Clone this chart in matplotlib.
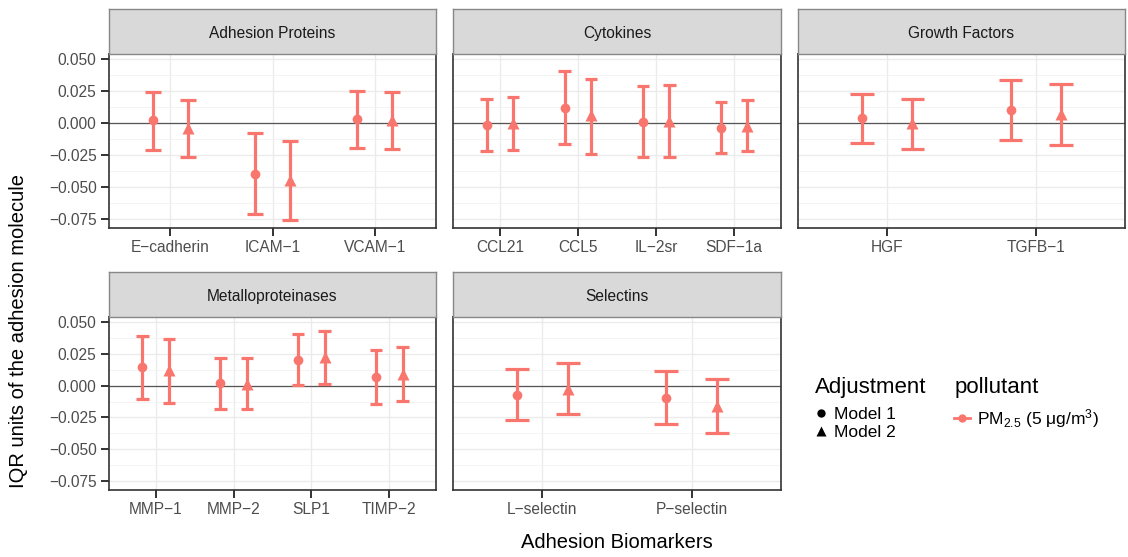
import matplotlib
matplotlib.use("Agg")
import matplotlib.pyplot as plt
from matplotlib.lines import Line2D
import numpy as np

plt.rcParams['font.family'] = ['Liberation Sans', 'DejaVu Sans']
plt.rcParams['mathtext.default'] = 'regular'

# facet groups and biomarkers
groups = ['Adhesion Proteins', 'Cytokines', 'Growth Factors', 'Metalloproteinases', 'Selectins']
biomarker = ['E-cadherin', 'ICAM-1', 'VCAM-1',
             'CCL21', 'CCL5', 'IL-2sr', 'SDF-1a',
             'HGF', 'TGFB-1',
             'MMP-1', 'MMP-2', 'SLP1', 'TIMP-2',
             'L-selectin', 'P-selectin']
group = (['Adhesion Proteins'] * 3 + ['Cytokines'] * 4 + ['Growth Factors'] * 2
         + ['Metalloproteinases'] * 4 + ['Selectins'] * 2)

# Model 1 estimates and 95% CI
m1_est = [0.0020, -0.0395, 0.0030, -0.0018, 0.0120, 0.0010, -0.0036, 0.0036, 0.0101,
          0.0145, 0.0018, 0.0202, 0.0065, -0.0070, -0.0096]
m1_lo = [-0.0208, -0.0712, -0.0194, -0.0221, -0.0164, -0.0268, -0.0234, -0.0159, -0.0133,
         -0.0104, -0.0184, 0.0003, -0.0145, -0.0269, -0.0305]
m1_hi = [0.0242, -0.0077, 0.0253, 0.0185, 0.0403, 0.0291, 0.0161, 0.0226, 0.0333,
         0.0388, 0.0217, 0.0409, 0.0280, 0.0129, 0.0111]

# Model 2 estimates and 95% CI
m2_est = [-0.0036, -0.0444, 0.0024, -0.0003, 0.0060, 0.0018, -0.0023, -0.0003, 0.0070,
          0.0119, 0.0016, 0.0223, 0.0090, -0.0028, -0.0160]
m2_lo = [-0.0265, -0.0758, -0.0204, -0.0213, -0.0239, -0.0263, -0.0218, -0.0200, -0.0172,
         -0.0140, -0.0186, 0.0010, -0.0124, -0.0220, -0.0373]
m2_hi = [0.0182, -0.0137, 0.0243, 0.0200, 0.0346, 0.0299, 0.0179, 0.0190, 0.0307,
         0.0365, 0.0220, 0.0427, 0.0305, 0.0181, 0.0052]

y_ticks = [-0.075, -0.050, -0.025, 0.000, 0.025, 0.050]

RED = '#F8766D'
W, H = 1128, 557
fig = plt.figure(figsize=(W / 100, H / 100), dpi=100)


def px_rect(x0, y0, x1, y1):
    return [x0 / W, 1 - y1 / H, (x1 - x0) / W, (y1 - y0) / H]


# panel boxes in pixels
cols = [(109, 436), (453, 781), (798, 1125)]
rows = [(9, 54, 228), (272, 317, 490)]

for k, g in enumerate(groups):
    r, c = divmod(k, 3)
    x0, x1 = cols[c]
    st, pt, pb = rows[r]
    ax = fig.add_axes(px_rect(x0, pt, x1, pb))
    sax = fig.add_axes(px_rect(x0, st, x1, pt))

    idx = [i for i, gg in enumerate(group) if gg == g]
    labels = [biomarker[i].replace('-', '\u2212') for i in idx]
    n = len(idx)
    xs = np.arange(1, n + 1)

    for off, est, lo, hi, mk, ms in [(-0.17, m1_est, m1_lo, m1_hi, 'o', 7),
                                      (0.17, m2_est, m2_lo, m2_hi, '^', 8)]:
        xp = xs + off
        e = [est[i] for i in idx]
        l = [lo[i] for i in idx]
        h = [hi[i] for i in idx]
        ax.vlines(xp, l, h, color=RED, lw=2.3, zorder=3)
        ax.hlines(l, xp - 0.08, xp + 0.08, color=RED, lw=2.3, zorder=3)
        ax.hlines(h, xp - 0.08, xp + 0.08, color=RED, lw=2.3, zorder=3)
        ax.plot(xp, e, ls='none', marker=mk, ms=ms, color=RED, mec='none', zorder=4)

    ax.axhline(0, color='#555555', lw=0.9, zorder=2)
    ax.set_xlim(0.4, n + 0.6)
    ax.set_ylim(-0.082, 0.0539)
    ax.set_xticks(xs)
    ax.set_xticklabels(labels)
    ax.set_yticks(y_ticks)
    ax.set_yticks(np.arange(-0.0625, 0.05, 0.025), minor=True)
    ax.yaxis.set_major_formatter(plt.FuncFormatter(lambda v, p: f'{v:.3f}'.replace('-', '\u2212')))
    ax.grid(True, which='major', color='#EBEBEB', lw=1.0, zorder=0)
    ax.grid(True, which='minor', axis='y', color='#F2F2F2', lw=0.6, zorder=0)
    ax.set_axisbelow(True)
    ax.tick_params(axis='both', which='major', length=6, width=1.4, color='#333333',
                   labelsize=11.2, labelcolor='#4D4D4D', pad=3)
    ax.tick_params(axis='y', which='minor', length=0)
    if c != 0:
        ax.tick_params(axis='y', which='major', left=False, labelleft=False)
    for sp in ax.spines.values():
        sp.set_color('#333333')
        sp.set_linewidth(1.2)

    sax.set_facecolor('#D9D9D9')
    sax.set_xticks([])
    sax.set_yticks([])
    for sp in sax.spines.values():
        sp.set_color('#888888')
        sp.set_linewidth(1.0)
    sax.text(0.5, 0.46, g, ha='center', va='center', fontsize=11.2, color='#1A1A1A',
             transform=sax.transAxes)

fig.text(19 / W, 1 - 331 / H, 'IQR units of the adhesion molecule', rotation=90,
         ha='center', va='center', fontsize=14.5)
fig.text(617 / W, 1 - 542 / H, 'Adhesion Biomarkers', ha='center', va='center', fontsize=14.5)

# legends
adj_handles = [Line2D([], [], ls='none', marker='o', ms=6, color='black', mec='none'),
               Line2D([], [], ls='none', marker='^', ms=6.5, color='black', mec='none')]
leg1 = fig.legend(adj_handles, ['Model 1', 'Model 2'], title='Adjustment',
                  loc='upper left', bbox_to_anchor=(811 / W, 1 - 374 / H), frameon=False,
                  fontsize=12.5, title_fontsize=16, handlelength=0.8, handletextpad=0.35,
                  labelspacing=0.18, borderaxespad=0, borderpad=0.2)
leg1._legend_box.align = 'left'
leg1._legend_box.sep = 6

pol_handles = [Line2D([], [], color=RED, lw=2, marker='o', ms=6, mec='none')]
leg2 = fig.legend(pol_handles, ['PM$_{2.5}$ (5 \u03bcg/m$^3$)'], title='pollutant',
                  loc='upper left', bbox_to_anchor=(951 / W, 1 - 374 / H), frameon=False,
                  fontsize=12.5, title_fontsize=16, handlelength=0.9, handletextpad=0.4,
                  labelspacing=0.18, borderaxespad=0, borderpad=0.2)
leg2._legend_box.align = 'left'
leg2._legend_box.sep = 6

plt.savefig('out.png', dpi=100)
